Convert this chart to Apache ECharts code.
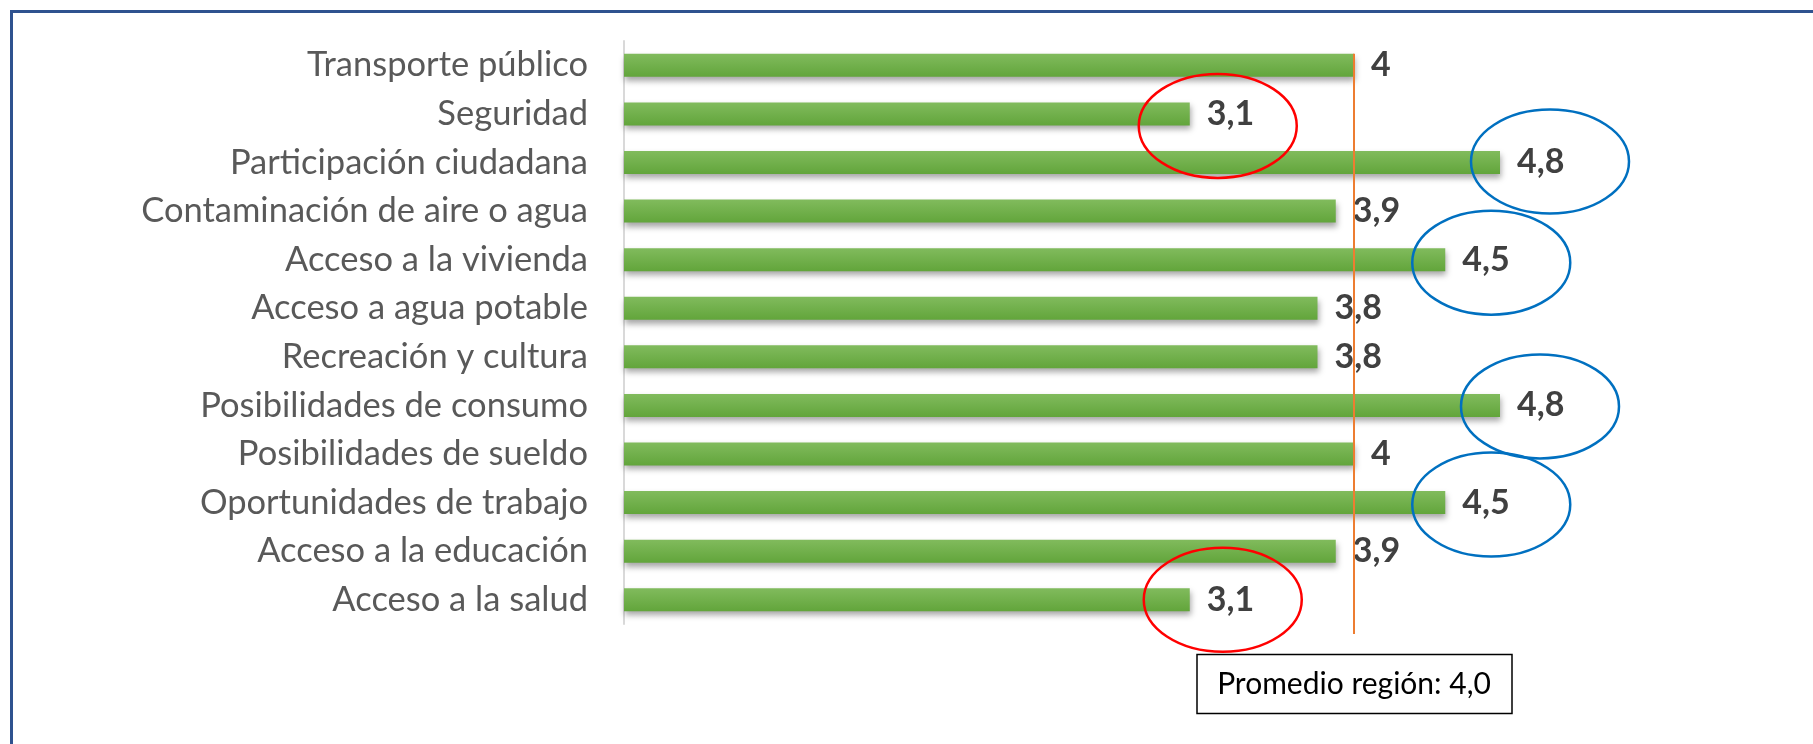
<!DOCTYPE html>
<html>
<head>
<meta charset="utf-8">
<style>
  html, body { margin: 0; padding: 0; background: #ffffff; }
  #chart { width: 1813px; height: 744px; }
</style>
<script src="https://cdn.jsdelivr.net/npm/echarts@6/dist/echarts.min.js"></script>
</head>
<body>
<div id="chart"></div>
<script>
// categories, top to bottom
var categories = [
  'Transporte público',
  'Seguridad',
  'Participación ciudadana',
  'Contaminación de aire o agua',
  'Acceso a la vivienda',
  'Acceso a agua potable',
  'Recreación y cultura',
  'Posibilidades de consumo',
  'Posibilidades de sueldo',
  'Oportunidades de trabajo',
  'Acceso a la educación',
  'Acceso a la salud'
];
var scores = [4, 3.1, 4.8, 3.9, 4.5, 3.8, 3.8, 4.8, 4, 4.5, 3.9, 3.1];
var regionAverage = 4.0;
var averageLabel = 'Promedio región: 4,0';

// circled categories (red = low, blue = high)
var lowMarked = ['Seguridad', 'Acceso a la salud'];
var highMarked = ['Participación ciudadana', 'Acceso a la vivienda', 'Posibilidades de consumo', 'Oportunidades de trabajo'];

// where each ellipse sits relative to the end of its bar
var ellipseOffset = {
  'Seguridad': [28, 12],
  'Acceso a la salud': [33, 0],
  'Participación ciudadana': [50, -1],
  'Acceso a la vivienda': [46, 3],
  'Posibilidades de consumo': [40, 1],
  'Oportunidades de trabajo': [46, 2]
};

function comma(v) {
  return String(v).replace('.', ',');
}

var myChart = echarts.init(document.getElementById('chart'));

var option = {
  animation: false,
  backgroundColor: '#ffffff',
  grid: {
    top: 41,
    bottom: 120,
    left: 624,
    right: 276.5,
    containLabel: false
  },
  xAxis: {
    type: 'value',
    min: 0,
    max: 5,
    show: false,
    splitLine: { show: false }
  },
  yAxis: {
    type: 'category',
    inverse: true,
    data: categories,
    axisTick: { show: false },
    axisLine: {
      lineStyle: { color: '#d9d9d9', width: 2 }
    },
    axisLabel: {
      margin: 36,
      fontFamily: 'Lato',
      fontSize: 34.5,
      color: '#595959'
    }
  },
  series: [{
    type: 'bar',
    data: scores,
    barWidth: 23,
    itemStyle: {
      color: new echarts.graphic.LinearGradient(0, 0, 0, 1, [
        { offset: 0, color: '#81bb5d' },
        { offset: 1, color: '#62a53b' }
      ]),
      shadowColor: 'rgba(0,0,0,0.35)',
      shadowBlur: 6,
      shadowOffsetY: 4,
      shadowOffsetX: 1
    },
    label: {
      show: true,
      position: 'right',
      distance: 17,
      fontFamily: 'Lato',
      fontWeight: 'bold',
      fontSize: 34,
      color: '#404040',
      formatter: function (p) { return comma(p.value); }
    }
  }]
};

myChart.setOption(option);

function px(value, cat) {
  return myChart.convertToPixel({ gridIndex: 0 }, [value, cat]);
}

var extras = [];

// outer frame (only top and left edges are inside the picture)
extras.push({
  type: 'rect',
  shape: { x: 11.5, y: 11.5, width: 1900, height: 900 },
  style: { fill: 'none', stroke: '#2f528f', lineWidth: 3 },
  z: 1
});

// regional average line
var bandHalf = (px(0, categories[1])[1] - px(0, categories[0])[1]) / 2;
var avgTop = px(regionAverage, categories[0]);
var avgBottom = px(regionAverage, categories[categories.length - 1]);
extras.push({
  type: 'line',
  shape: { x1: avgTop[0], y1: avgTop[1] - 11.5, x2: avgTop[0], y2: avgBottom[1] + bandHalf + 10 },
  style: { stroke: '#ed7d31', lineWidth: 2 },
  z: 10
});

// average label box
var boxW = 315, boxH = 59;
var boxTop = avgBottom[1] + bandHalf + 30;
extras.push({
  type: 'rect',
  shape: { x: avgTop[0] - boxW / 2 + 0.5, y: boxTop + 0.5, width: boxW, height: boxH },
  style: { fill: '#ffffff', stroke: '#000000', lineWidth: 1.5 },
  z: 10
});
extras.push({
  type: 'text',
  x: avgTop[0],
  y: boxTop + boxH / 2 + 1,
  style: {
    text: averageLabel,
    fontFamily: 'Lato',
    fontSize: 30,
    fill: '#000000',
    align: 'center',
    verticalAlign: 'middle'
  },
  z: 11
});

// highlight ellipses
function addEllipse(cat, color) {
  var i = categories.indexOf(cat);
  var p = px(scores[i], cat);
  var off = ellipseOffset[cat] || [40, 0];
  extras.push({
    type: 'ellipse',
    shape: { cx: p[0] + off[0], cy: p[1] + off[1], rx: 79, ry: 52 },
    style: { fill: 'none', stroke: color, lineWidth: 2.5 },
    z: 12
  });
}
lowMarked.forEach(function (c) { addEllipse(c, '#ff0000'); });
highMarked.forEach(function (c) { addEllipse(c, '#0070c0'); });

myChart.setOption({ graphic: extras });

window.addEventListener('resize', function () {
  myChart.resize();
});
</script>
</body>
</html>
